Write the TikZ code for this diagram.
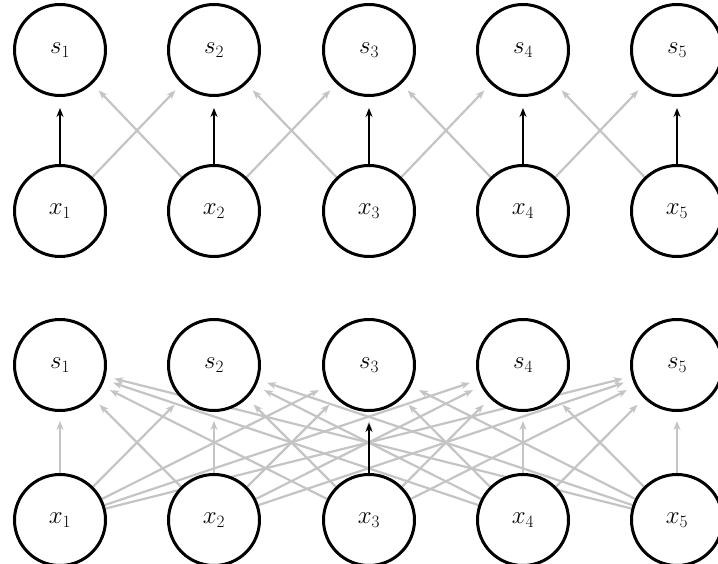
\documentclass[tikz,border=0pt]{standalone}
\usepackage{amsmath,amssymb}
\usepackage{xcolor}
\usepackage{tikz}
\usetikzlibrary{arrows.meta,backgrounds}
\definecolor{faint}{HTML}{C4C4C4}

\begin{document}
\begin{tikzpicture}[
  x=1pt, y=-1pt,
  >={Stealth[length=9pt,width=7pt]},
  unit/.style={circle,draw,line width=3pt,minimum size=91pt,inner sep=0pt,fill=white,
    font=\fontsize{24pt}{28pt}\selectfont},
  conn/.style={faint,->,line width=2.2pt,shorten >=9pt},
  hl/.style={black,->,line width=2.6pt,shorten >=11pt}
]
  \useasboundingbox (0,0) rectangle (718,564);
  % units: T = sparse panel, B = dense panel
  \foreach \i/\xp in {1/60,2/214,3/369,4/523,5/677}{
    \node[unit] (sT\i) at (\xp,50)  {$s_{\i}$};
    \node[unit] (xT\i) at (\xp,211) {$x_{\i}$};
    \node[unit] (sB\i) at (\xp,365) {$s_{\i}$};
    \node[unit] (xB\i) at (\xp,520) {$x_{\i}$};
  }
  \begin{scope}[on background layer]
    % sparse: each input feeds its neighbours only
    \foreach \i/\j in {1/2,2/1,2/3,3/2,3/4,4/3,4/5,5/4}
      \draw[conn] (xT\i) -- (sT\j);
    \foreach \i in {1,...,5}
      \draw[hl] (xT\i) -- (sT\i);
    % dense: every input feeds every unit
    \foreach \i in {1,...,5}
      \foreach \j in {1,...,5}
        \draw[conn] (xB\i) -- (sB\j);
    \draw[hl] (xB3) -- (sB3);
  \end{scope}
\end{tikzpicture}
\end{document}
